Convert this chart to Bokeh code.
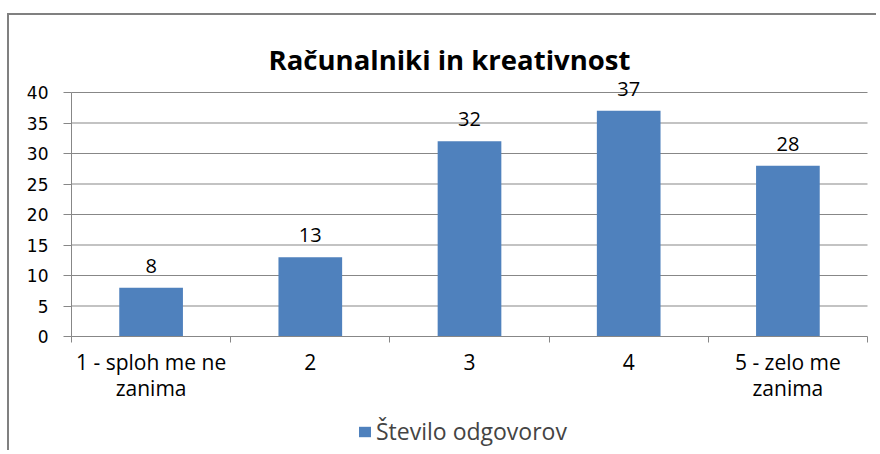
from bokeh.plotting import figure
from bokeh.models import (ColumnDataSource, FixedTicker, LabelSet, Label, Legend, LegendItem,
                          Range1d, LinearAxis)
from bokeh.core.properties import value
from bokeh.embed import file_html
from bokeh.resources import INLINE

categories = ["1 - sploh me ne\nzanima", "2", "3", "4", "5 - zelo me\nzanima"]
values = [8, 13, 32, 37, 28]
y_ticks = [0, 5, 10, 15, 20, 25, 30, 35, 40]
series_name = "Število odgovorov"
title_text = "Računalniki in kreativnost"

n = len(categories)
xs = list(range(1, n + 1))
src = ColumnDataSource(dict(x=xs, top=values, lab=[str(v) for v in values]))

# ---- layout (page pixels) ----
ORG_X, ORG_Y = 9, 15          # content origin after margin + border
W, H = 869, 437               # canvas size
AX_L, AX_R = 71, 867          # plot area left/right
AX_B, AX_T = 336, 92          # y=0 and y=40
YMAX = y_ticks[-1]
kx = (AX_R - AX_L) / n
ky = (AX_B - AX_T) / YMAX
x_start = 0.5 - (AX_L - ORG_X) / kx
x_end = n + 0.5 + (ORG_X + W - AX_R) / kx
y_end = YMAX + (AX_T - ORG_Y) / ky
y_start = -(ORG_Y + H - AX_B) / ky

def dx(px):
    return 0.5 + (px - AX_L) / kx

def dy(py):
    return (AX_B - py) / ky

FONT = "Open Sans"
GRID = "#878787"

p = figure(width=W, height=H, output_backend="svg", toolbar_location=None,
           x_range=Range1d(x_start, x_end), y_range=Range1d(y_start, y_end),
           min_border=0, x_axis_location=None, y_axis_location=None)
p.styles = {"border-left": "2px solid #808080", "border-top": "2px solid #808080",
            "margin-left": "7px", "margin-top": "13px"}
p.outline_line_color = None
p.xgrid.visible = False
p.ygrid.visible = False

# gridlines (between category extent)
grid_y = [t for t in y_ticks if t > 0]
p.segment(x0=[0.5] * len(grid_y), x1=[n + 0.5] * len(grid_y), y0=grid_y, y1=grid_y,
          line_color=GRID, line_width=1)

r = p.vbar(x="x", top="top", width=0.4, source=src, color="#4F81BD", line_color=None)

labels = LabelSet(x="x", y="top", text="lab", source=src, y_offset=15, text_align="center",
                  text_baseline="alphabetic", text_font=value(FONT), text_font_size="20px",
                  text_color="black")
p.add_layout(labels)

title = Label(x=dx(449), y=dy(59), text=title_text, text_align="center",
              text_baseline="alphabetic", text_font=FONT, text_font_size="27.5px",
              text_font_style="bold", text_color="black")
p.add_layout(title)

# x axis
xa = LinearAxis(fixed_location=0, bounds=(0.5, n + 0.5))
xa.ticker = FixedTicker(ticks=xs, minor_ticks=[x - 0.5 for x in xs] + [xs[-1] + 0.5])
xa.major_label_overrides = {x: c for x, c in zip(xs, categories)}
xa.major_tick_line_color = None
xa.minor_tick_line_color = GRID
xa.minor_tick_out = 6
xa.minor_tick_in = 0
xa.axis_line_color = GRID
xa.major_label_standoff = 5
xa.major_label_text_font = FONT
xa.major_label_text_font_size = "21px"
xa.major_label_text_line_height = 0.94
xa.major_label_text_color = "black"
p.add_layout(xa, "below")

ya = LinearAxis(fixed_location=0.5, bounds=(0, YMAX))
ya.ticker = FixedTicker(ticks=y_ticks)
ya.minor_tick_line_color = None
ya.major_tick_line_color = GRID
ya.major_tick_out = 8
ya.major_tick_in = 0
ya.axis_line_color = GRID
ya.major_label_standoff = 15
ya.major_label_text_font = "DejaVu Sans"
ya.major_label_text_font_size = "17px"
ya.major_label_text_color = "black"
p.add_layout(ya, "left")

legend = Legend(items=[LegendItem(label=series_name, renderers=[r])],
                location=(357 - ORG_X, 5),
                orientation="horizontal", border_line_color=None, background_fill_alpha=0,
                label_text_font=FONT, label_text_font_size="23px", glyph_width=15, glyph_height=13,
                label_standoff=4, padding=0, margin=0, spacing=0)
p.add_layout(legend, "center")

open("out.html", "w").write(file_html(p, INLINE))
